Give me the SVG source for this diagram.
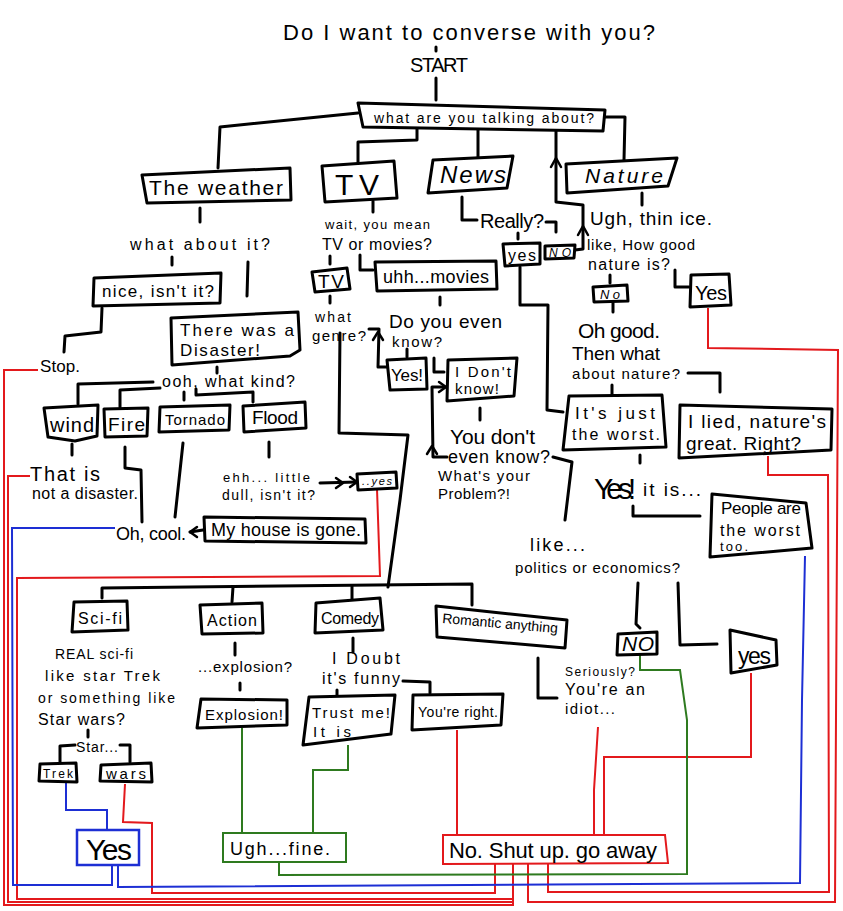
<svg xmlns="http://www.w3.org/2000/svg" width="843" height="911" viewBox="0 0 843 911">
  <style>
    .bx { fill: #fff; stroke: #000; stroke-width: 3; stroke-linejoin: round; }
    .c { fill: none; stroke: #000; stroke-width: 3; stroke-linecap: round; stroke-linejoin: round; }
    .ah { fill: none; stroke: #000; stroke-width: 2.5; stroke-linecap: round; stroke-linejoin: round; }
    .r { fill: none; stroke: #e3191c; stroke-width: 2; }
    .bl { fill: none; stroke: #1d2fd4; stroke-width: 2; }
    .g { fill: none; stroke: #2e7a1f; stroke-width: 2; }
    .rb { fill: #fff; stroke: #e3191c; stroke-width: 2; }
    .blb { fill: #fff; stroke: #1d2fd4; stroke-width: 2.5; }
    .gb { fill: #fff; stroke: #2e7a1f; stroke-width: 2; }
    text { font-family: "Liberation Sans", "Open Sans", sans-serif; fill: #000; }
    .it { font-style: italic; }
  </style>
  <rect width="843" height="911" fill="#fff"/>

  <!-- connectors -->
  <g id="connectors">
    <!-- black flow lines -->
    <path class="c" d="M436,47 L436,51"/>
    <path class="c" d="M436,78 L436,100"/>
    <path class="c" d="M358,113 L220,127 L218,168"/>
    <path class="c" d="M417,128 L417,140 L358,142 L358,162"/>
    <path class="c" d="M478,129 L478,158"/>
    <path class="c" d="M575,250 L583,249 L583,205 L556,202 L556,130"/>
    <path class="ah" d="M551,167 L556,158 L561,167"/>
    <path class="ah" d="M578,235 L583,226 L588,235"/>
    <path class="c" d="M604,117 L625,117 L624,160"/>

    <path class="c" d="M200,208 L200,222"/>
    <path class="c" d="M172,257 L172,265"/>
    <path class="c" d="M248,262 L247,296"/>
    <path class="c" d="M102,308 L101,332 L65,336 L64,352"/>
    <path class="c" d="M217,367 L217,373"/>
    <path class="c" d="M153,382 L78,384 L78,404"/>
    <path class="c" d="M160,388 L120,390 L120,407"/>
    <path class="c" d="M184,392 L184,400"/>
    <path class="c" d="M196,389 L196,395 L253,392 L253,402"/>
    <path class="c" d="M72,444 L72,455"/>
    <path class="c" d="M125,447 L125,468 L141,470 L142,522"/>
    <path class="c" d="M183,443 L175,517"/>
    <path class="c" d="M269,442 L269,457"/>
    <path class="c" d="M320,483 L357,482"/>
    <path class="ah" d="M336,478 L343,483 L336,488"/>
    <path class="ah" d="M350,477 L357,482 L350,487"/>
    <path class="c" d="M203,530 L190,532"/>
    <path class="ah" d="M197,527 L190,532 L197,537"/>

    <path class="c" d="M373,201 L373,212"/>
    <path class="c" d="M330,256 L330,264"/>
    <path class="c" d="M360,255 L360,270 L373,270"/>
    <path class="c" d="M440,297 L440,305"/>
    <path class="c" d="M330,296 L330,303"/>
    <path class="c" d="M369,329 L379,329 L378,367 L387,367"/>
    <path class="ah" d="M373,340 L378,332 L383,340"/>
    <path class="c" d="M407,349 L407,357"/>
    <path class="c" d="M434,358 L434,372 L444,372"/>
    <path class="c" d="M480,408 L480,420"/>
    <path class="c" d="M447,457 L433,457 L432,387 L445,387"/>
    <path class="ah" d="M439,382 L446,387 L439,392"/>
    <path class="ah" d="M427,454 L432,446 L437,454"/>
    <path class="c" d="M340,333 L339,433 L408,435 L400,500 L388,587"/>
    <path class="c" d="M102,598 L102,588 L472,584 L472,605"/>
    <path class="c" d="M233,587 L232,602"/>
    <path class="c" d="M352,586 L352,600"/>

    <path class="c" d="M462,197 L462,220 L477,220"/>
    <path class="c" d="M518,233 L518,239"/>
    <path class="c" d="M546,222 L556,222 L556,232"/>
    <path class="c" d="M520,267 L520,305 L548,305 L547,410 L563,412"/>
    <path class="c" d="M553,457 L572,462 L565,520"/>

    <path class="c" d="M642,193 L642,205"/>
    <path class="c" d="M610,275 L610,283"/>
    <path class="c" d="M675,270 L675,287 L689,287"/>
    <path class="c" d="M613,303 L613,312"/>
    <path class="c" d="M688,373 L720,373 L720,392"/>
    <path class="c" d="M612,385 L612,394"/>
    <path class="c" d="M640,455 L640,463"/>
    <path class="c" d="M633,506 L633,516 L700,516"/>
    <path class="c" d="M638,583 L636,624 L640,628"/>
    <path class="c" d="M678,583 L680,645 L717,644"/>

    <path class="c" d="M538,658 L538,698 L557,698"/>
    <path class="c" d="M353,638 L353,652"/>
    <path class="c" d="M403,681 L430,682 L430,693"/>
    <path class="c" d="M337,690 L337,698"/>
    <path class="c" d="M235,643 L235,655"/>
    <path class="c" d="M240,683 L240,690"/>
    <path class="c" d="M88,730 L88,737"/>
    <path class="c" d="M75,745 L60,746 L60,762"/>
    <path class="c" d="M120,745 L130,745 L130,762"/>

    <!-- red: to "No. Shut up. go away" -->
    <path class="r" d="M38,370 L4,370 L4,905 L513,905 L513,864"/>
    <path class="r" d="M30,476 L8,476 L8,902 L513,902"/>
    <path class="r" d="M377,489 L380,576 L17,578 L17,899 L513,899"/>
    <path class="r" d="M125,784 L123,822 L152,823 L152,893 L495,893 L495,864"/>
    <path class="r" d="M457,730 L457,835"/>
    <path class="r" d="M598,727 L594,790 L594,835"/>
    <path class="r" d="M751,673 L751,757 L604,757 L604,835"/>
    <path class="r" d="M708,308 L708,348 L838,350 L835,902 L528,902 L528,864"/>
    <path class="r" d="M768,456 L768,475 L828,475 L829,892 L548,892 L548,864"/>

    <!-- blue: to "Yes" -->
    <path class="bl" d="M115,528 L12,528 L13,885 L112,885 L112,865"/>
    <path class="bl" d="M805,556 L802,700 L800,883 L118,887 L118,865"/>
    <path class="bl" d="M66,783 L66,810 L107,810 L107,830"/>

    <!-- green: to "Ugh...fine." -->
    <path class="g" d="M242,728 L242,833"/>
    <path class="g" d="M348,745 L348,770 L313,770 L313,833"/>
    <path class="g" d="M279,862 L279,875 L687,874 L687,720 L680,670 L640,670 L640,655"/>
  </g>

  <!-- header -->
  <g id="title">
    <text x="283" y="40" font-size="22" textLength="372">Do I want to converse with you?</text>
  </g>
  <g id="start">
    <text x="410" y="72" font-size="20" textLength="58">START</text>
  </g>
  <g id="n-main">
    <polygon class="bx" points="358,103 605,110 603,131 363,127"/>
    <text x="374" y="123" font-size="14" textLength="220">what are you talking about?</text>
  </g>

  <!-- weather branch -->
  <g id="n-weather">
    <polygon class="bx" points="142,175 290,168 291,200 147,203"/>
    <text x="149" y="195" font-size="21" textLength="134">The weather</text>
  </g>
  <g id="n-what-about">
    <text x="130" y="250" font-size="16" textLength="140">what about it?</text>
  </g>
  <g id="n-nice">
    <polygon class="bx" points="94,278 221,273 220,303 93,306"/>
    <text x="102" y="297" font-size="17" textLength="112">nice, isn't it?</text>
  </g>
  <g id="n-stop">
    <text x="40" y="372" font-size="17" textLength="40">Stop.</text>
  </g>
  <g id="n-disaster">
    <polygon class="bx" points="171,318 298,312 300,350 290,356 172,365"/>
    <text x="180" y="336" font-size="17" textLength="114">There was a</text>
    <text x="180" y="356" font-size="17" textLength="80">Disaster!</text>
  </g>
  <g id="n-what-kind">
    <text x="162" y="387" font-size="16" textLength="133">ooh, what kind?</text>
  </g>
  <g id="n-wind">
    <polygon class="bx" points="44,408 98,405 97,436 75,441 48,437"/>
    <text x="50" y="432" font-size="20" textLength="44">wind</text>
  </g>
  <g id="n-fire">
    <polygon class="bx" points="104,409 148,408 147,436 105,437"/>
    <text x="108" y="431" font-size="19" textLength="37">Fire</text>
  </g>
  <g id="n-tornado">
    <polygon class="bx" points="160,407 230,405 229,430 159,432"/>
    <text x="165" y="425" font-size="15" textLength="60">Tornado</text>
  </g>
  <g id="n-flood">
    <polygon class="bx" points="243,406 305,402 306,428 244,432"/>
    <text x="252" y="424" font-size="19" textLength="46">Flood</text>
  </g>
  <g id="n-not-disaster">
    <text x="30" y="481" font-size="20" textLength="70">That is</text>
    <text x="32" y="499" font-size="16" textLength="106">not a disaster.</text>
  </g>
  <g id="n-oh-cool">
    <text x="116" y="540" font-size="18" textLength="70">Oh, cool.</text>
  </g>
  <g id="n-dull">
    <text x="223" y="482" font-size="13" textLength="87">ehh... little</text>
    <text x="222" y="500" font-size="14" textLength="93">dull, isn't it?</text>
  </g>
  <g id="n-yes-dull">
    <polygon class="bx" points="357,474 396,472 397,488 358,490"/>
    <text class="it" x="362" y="485" font-size="11" textLength="30">..yes</text>
  </g>
  <g id="n-house">
    <polygon class="bx" points="204,517 365,519 366,543 205,541"/>
    <text x="211" y="536" font-size="18" textLength="150">My house is gone.</text>
  </g>

  <!-- TV branch -->
  <g id="n-tv">
    <polygon class="bx" points="322,166 394,161 397,198 325,202"/>
    <text x="335" y="195" font-size="30" textLength="44">TV</text>
  </g>
  <g id="n-tv-or-movies">
    <text x="325" y="229" font-size="13" textLength="105">wait, you mean</text>
    <text x="322" y="250" font-size="16" textLength="110">TV or movies?</text>
  </g>
  <g id="n-tv2">
    <polygon class="bx" points="312,272 347,268 350,289 315,292"/>
    <text x="318" y="288" font-size="19" textLength="26">TV</text>
  </g>
  <g id="n-movies">
    <polygon class="bx" points="375,262 496,261 497,289 377,291"/>
    <text x="383" y="283" font-size="18" textLength="106">uhh...movies</text>
  </g>
  <g id="n-genre">
    <text x="315" y="322" font-size="14" textLength="36">what</text>
    <text x="312" y="341" font-size="15" textLength="54">genre?</text>
  </g>
  <g id="n-even-know">
    <text x="389" y="328" font-size="19" textLength="113">Do you even</text>
    <text x="392" y="347" font-size="15" textLength="50">know?</text>
  </g>
  <g id="n-yes-know">
    <polygon class="bx" points="387,360 426,358 427,389 390,390"/>
    <text x="391" y="381" font-size="17" textLength="32">Yes!</text>
  </g>
  <g id="n-dont-know">
    <polygon class="bx" points="448,360 517,358 514,396 447,401"/>
    <text x="455" y="377" font-size="15" textLength="56">I Don't</text>
    <text x="455" y="394" font-size="15" textLength="44">know!</text>
  </g>
  <g id="n-problem">
    <text x="450" y="444" font-size="21" textLength="85">You don't</text>
    <text x="448" y="463" font-size="18" textLength="102">even know?</text>
    <text x="438" y="481" font-size="15" textLength="92">What's your</text>
    <text x="438" y="499" font-size="15" textLength="72">Problem?!</text>
  </g>

  <!-- news branch -->
  <g id="n-news">
    <polygon class="bx" points="433,160 513,156 507,188 428,193"/>
    <text class="it" x="440" y="183" font-size="24" textLength="66">News</text>
  </g>
  <g id="n-really">
    <text x="480" y="228" font-size="20" textLength="64">Really?</text>
  </g>
  <g id="n-really-yes">
    <polygon class="bx" points="503,244 540,243 540,264 505,266"/>
    <text x="508" y="261" font-size="16" textLength="28">yes</text>
  </g>
  <g id="n-really-no">
    <polygon class="bx" points="545,246 575,245 574,258 545,259"/>
    <text class="it" x="549" y="257" font-size="12" textLength="22">NO</text>
  </g>
  <g id="n-politics">
    <text x="530" y="551" font-size="18" textLength="55">like...</text>
    <text x="515" y="573" font-size="15" textLength="165">politics or economics?</text>
  </g>
  <g id="n-politics-no">
    <polygon class="bx" points="618,634 657,632 657,654 617,655"/>
    <text class="it" x="622" y="651" font-size="21" textLength="32">NO</text>
  </g>
  <g id="n-politics-yes">
    <polygon class="bx" points="730,630 776,640 777,665 731,673"/>
    <text x="738" y="664" font-size="23" textLength="33">yes</text>
  </g>

  <!-- nature branch -->
  <g id="n-nature">
    <polygon class="bx" points="566,164 677,158 668,186 567,193"/>
    <text class="it" x="585" y="183" font-size="21" textLength="78">Nature</text>
  </g>
  <g id="n-thin-ice">
    <text x="590" y="225" font-size="19" textLength="122">Ugh, thin ice.</text>
    <text x="587" y="250" font-size="15" textLength="108">like, How good</text>
    <text x="588" y="270" font-size="16" textLength="82">nature is?</text>
  </g>
  <g id="n-nature-no">
    <polygon class="bx" points="593,287 627,285 628,301 594,302"/>
    <text class="it" x="600" y="299" font-size="13" textLength="20">No</text>
  </g>
  <g id="n-nature-yes">
    <polygon class="bx" points="691,275 729,274 731,305 690,307"/>
    <text x="695" y="300" font-size="20" textLength="32">Yes</text>
  </g>
  <g id="n-oh-good">
    <text x="578" y="338" font-size="21" textLength="82">Oh good.</text>
    <text x="572" y="360" font-size="19" textLength="88">Then what</text>
    <text x="572" y="379" font-size="15" textLength="108">about nature?</text>
  </g>
  <g id="n-worst">
    <polygon class="bx" points="569,396 662,395 666,447 563,450"/>
    <text x="575" y="419" font-size="17" textLength="80">It's just</text>
    <text x="572" y="440" font-size="16" textLength="88">the worst.</text>
  </g>
  <g id="n-lied">
    <polygon class="bx" points="680,405 832,409 831,450 679,458"/>
    <text x="688" y="428" font-size="19" textLength="138">I lied, nature's</text>
    <text x="686" y="450" font-size="19" textLength="115">great. Right?</text>
  </g>
  <g id="n-it-is">
    <text x="594" y="499" font-size="29" textLength="42">Yes!</text>
    <text x="643" y="496" font-size="19" textLength="58">it is...</text>
  </g>
  <g id="n-people">
    <polygon class="bx" points="712,494 806,503 812,548 710,557"/>
    <text x="721" y="514" font-size="17" textLength="80">People are</text>
    <text x="720" y="536" font-size="16" textLength="80">the worst</text>
    <text x="720" y="551" font-size="13" textLength="28">too.</text>
  </g>

  <!-- genres -->
  <g id="n-scifi">
    <polygon class="bx" points="74,602 127,601 128,630 72,632"/>
    <text x="78" y="624" font-size="16" textLength="44">Sci-fi</text>
  </g>
  <g id="n-real-scifi">
    <text x="55" y="659" font-size="14" textLength="78">REAL sci-fi</text>
    <text x="45" y="681" font-size="15" textLength="115">like star Trek</text>
    <text x="38" y="703" font-size="14" textLength="137">or something like</text>
    <text x="38" y="725" font-size="16" textLength="87">Star wars?</text>
  </g>
  <g id="n-star">
    <text x="76" y="752" font-size="14" textLength="42">Star...</text>
  </g>
  <g id="n-trek">
    <polygon class="bx" points="40,764 76,763 77,782 39,781"/>
    <text x="43" y="778" font-size="12" textLength="30">Trek</text>
  </g>
  <g id="n-wars">
    <polygon class="bx" points="101,765 151,763 152,782 100,781"/>
    <text x="106" y="779" font-size="15" textLength="40">wars</text>
  </g>
  <g id="n-action">
    <polygon class="bx" points="200,605 262,603 263,633 202,634"/>
    <text x="207" y="626" font-size="16" textLength="50">Action</text>
  </g>
  <g id="n-explosion-q">
    <text x="198" y="672" font-size="15" textLength="94">...explosion?</text>
  </g>
  <g id="n-explosion">
    <polygon class="bx" points="201,699 287,700 287,725 197,728"/>
    <text x="205" y="720" font-size="15" textLength="78">Explosion!</text>
  </g>
  <g id="n-comedy">
    <polygon class="bx" points="316,603 380,598 383,630 315,633"/>
    <text x="321" y="624" font-size="16" textLength="58">Comedy</text>
  </g>
  <g id="n-doubt">
    <text x="332" y="664" font-size="16" textLength="68">I Doubt</text>
    <text x="322" y="684" font-size="16" textLength="78">it's funny</text>
  </g>
  <g id="n-trust">
    <polygon class="bx" points="309,697 395,695 391,734 303,745"/>
    <text x="312" y="718" font-size="15" textLength="78">Trust me!</text>
    <text x="313" y="737" font-size="15" textLength="38">It is</text>
  </g>
  <g id="n-right">
    <polygon class="bx" points="413,695 503,694 501,725 412,730"/>
    <text x="418" y="717" font-size="14" textLength="80">You're right.</text>
  </g>
  <g id="n-romantic">
    <polygon class="bx" points="436,606 567,620 565,648 437,637"/>
    <text x="442" y="628" font-size="14" textLength="116" transform="rotate(5 500 625)">Romantic anything</text>
  </g>
  <g id="n-idiot">
    <text x="565" y="676" font-size="12" textLength="70">Seriously?</text>
    <text x="565" y="695" font-size="16" textLength="80">You're an</text>
    <text x="565" y="714" font-size="15" textLength="50">idiot...</text>
  </g>

  <!-- outcomes -->
  <g id="n-out-yes">
    <rect class="blb" x="77" y="830" width="62" height="35"/>
    <text x="86" y="860" font-size="30" textLength="46">Yes</text>
  </g>
  <g id="n-out-fine">
    <rect class="gb" x="223" y="833" width="123" height="29"/>
    <text x="230" y="855" font-size="18" textLength="100">Ugh...fine.</text>
  </g>
  <g id="n-out-no">
    <polygon class="rb" points="443,835 665,835 668,863 443,864"/>
    <text x="449" y="858" font-size="22" textLength="208">No. Shut up. go away</text>
  </g>
</svg>
